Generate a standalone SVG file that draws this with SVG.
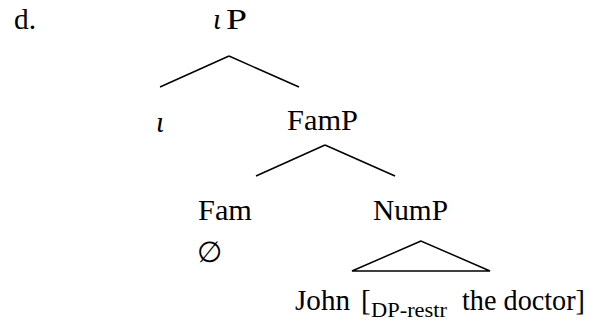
<svg xmlns="http://www.w3.org/2000/svg" width="590" height="323" viewBox="0 0 590 323">
<style>
.t{font-family:'Liberation Serif','Times New Roman',serif;font-size:29px;fill:#000}
.it{font-style:italic}
.sub{font-size:22px}
line{stroke:#000;stroke-width:1.5;fill:none}
</style>
<rect width="590" height="323" fill="#fff"/>
<text class="t" id="label-d" x="14" y="29" textLength="22" lengthAdjust="spacingAndGlyphs">d.</text>
<g id="node-iotaP"><text class="t" x="213" y="29"><tspan class="it">ι</tspan><tspan x="226" textLength="21" lengthAdjust="spacingAndGlyphs">P</tspan></text></g>
<g id="node-iota"><text class="t it" x="156" y="132">ι</text></g>
<g id="node-FamP"><text class="t" x="287" y="130" textLength="71" lengthAdjust="spacingAndGlyphs">FamP</text></g>
<g id="node-Fam"><text class="t" x="198" y="220" textLength="54" lengthAdjust="spacingAndGlyphs">Fam</text></g>
<g id="node-null"><text class="t" x="197" y="262">∅</text></g>
<g id="node-NumP"><text class="t" x="373" y="220" textLength="75" lengthAdjust="spacingAndGlyphs">NumP</text></g>
<g id="node-John"><text class="t" y="310"><tspan x="295" textLength="55" lengthAdjust="spacingAndGlyphs">John</tspan><tspan x="361">[</tspan><tspan class="sub" x="371" dy="7" textLength="76" lengthAdjust="spacingAndGlyphs">DP-restr</tspan><tspan x="462" dy="-7" textLength="123" lengthAdjust="spacingAndGlyphs">the doctor]</tspan></text></g>
<g id="connectors">
<line x1="160" y1="87" x2="229" y2="56"/>
<line x1="229" y1="56" x2="299" y2="87"/>
<line x1="256" y1="176" x2="325" y2="145"/>
<line x1="325" y1="145" x2="395" y2="176"/>
<polygon points="421,241 352,271 490,271" fill="none" stroke="#000" stroke-width="1.5"/>
</g>
</svg>
